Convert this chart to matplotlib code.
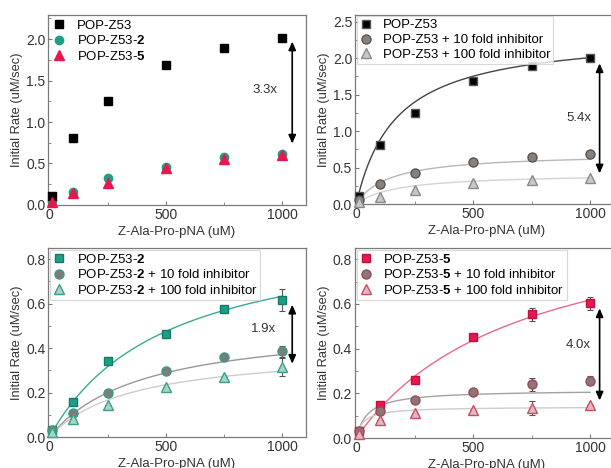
import matplotlib
matplotlib.use("Agg")
import matplotlib.pyplot as plt
from matplotlib.ticker import MultipleLocator
import numpy as np

plt.rcParams["font.family"] = ["Liberation Sans", "DejaVu Sans"]
plt.rcParams["mathtext.fontset"] = "custom"
plt.rcParams["mathtext.bf"] = "Liberation Sans:bold"
plt.rcParams["mathtext.rm"] = "Liberation Sans"

# substrate concentrations (uM)
substrate = [10, 100, 250, 500, 750, 1000]

# panel 1: enzyme variants
z53 = [0.11, 0.81, 1.25, 1.69, 1.89, 2.01]
z53_2 = [0.05, 0.16, 0.33, 0.46, 0.58, 0.61]
z53_5 = [0.04, 0.15, 0.26, 0.45, 0.55, 0.60]

# panel 2: POP-Z53 with inhibitor
z53_10x = [0.06, 0.27, 0.42, 0.57, 0.65, 0.69]
z53_100x = [0.03, 0.10, 0.19, 0.29, 0.33, 0.36]

# panel 3: POP-Z53-2 with inhibitor
z53_2_main = [0.03, 0.16, 0.34, 0.465, 0.575, 0.615]
z53_2_main_err = [0, 0, 0, 0.01, 0, 0.05]
z53_2_10x = [0.03, 0.11, 0.20, 0.295, 0.36, 0.385]
z53_2_10x_err = [0, 0, 0, 0, 0, 0.025]
z53_2_100x = [0.025, 0.08, 0.146, 0.227, 0.27, 0.314]
z53_2_100x_err = [0, 0, 0, 0, 0, 0.04]

# panel 4: POP-Z53-5 with inhibitor
z53_5_main = [0.03, 0.148, 0.258, 0.45, 0.553, 0.602]
z53_5_main_err = [0, 0.01, 0, 0, 0.03, 0.03]
z53_5_10x = [0.03, 0.123, 0.171, 0.205, 0.24, 0.256]
z53_5_10x_err = [0, 0, 0, 0, 0.03, 0.02]
z53_5_100x = [0.02, 0.081, 0.111, 0.127, 0.135, 0.15]
z53_5_100x_err = [0, 0, 0, 0, 0.03, 0]

# Michaelis-Menten fit parameters (Vmax, Km)
fit_p2 = [(2.35, 170), (0.70, 140), (0.42, 170)]
fit_p3 = [(0.95, 500), (0.52, 400), (0.40, 350)]
fit_p4 = [(1.05, 700), (0.215, 50), (0.14, 30)]

fold_labels = ["3.3x", "5.4x", "1.9x", "4.0x"]

TEAL = "#1f9e86"
RED = "#e8174e"
SPINE = "#7a7a7a"
XLABEL = "Z-Ala-Pro-pNA (uM)"
YLABEL = "Initial Rate (uM/sec)"

fig = plt.figure(figsize=(6.11, 4.68), dpi=100)
W = 0.421
ax1 = fig.add_axes([0.079, 0.562, W, 0.406])
ax2 = fig.add_axes([0.581, 0.564, W + 0.01, 0.405])
ax3 = fig.add_axes([0.079, 0.066, W, 0.404])
ax4 = fig.add_axes([0.581, 0.064, W + 0.01, 0.406])


def style_axes(ax, ymax, ystep, xmax=1100):
    ax.set_xlim(-5, xmax)
    ax.set_ylim(0, ymax)
    ax.xaxis.set_major_locator(MultipleLocator(500))
    ax.xaxis.set_minor_locator(MultipleLocator(250))
    ax.yaxis.set_major_locator(MultipleLocator(ystep))
    ax.yaxis.set_minor_locator(MultipleLocator(ystep / 2))
    for s in ax.spines.values():
        s.set_color(SPINE)
        s.set_linewidth(0.9)
    ax.tick_params(which="both", direction="in", color=SPINE, labelsize=10,
                   labelcolor="#333333", pad=2)
    ax.tick_params(which="major", length=3)
    ax.tick_params(which="minor", length=2)
    ax.set_xlabel(XLABEL, fontsize=9.5, color="#333333", labelpad=3)
    ax.set_ylabel(YLABEL, fontsize=9.3, color="#333333", labelpad=2)


def fit_curve(ax, vmax, km, color):
    xs = np.linspace(10, 1000, 200)
    ax.plot(xs, vmax * xs / (km + xs), color=color, lw=1.0, zorder=2)


def arrow(ax, x, y0, y1, tx, ty, text):
    ax.annotate("", xy=(x, y1), xytext=(x, y0),
                arrowprops=dict(arrowstyle="<|-|>,head_length=0.5,head_width=0.22",
                                color="black", lw=1.2, shrinkA=0, shrinkB=0))
    ax.text(tx, ty, text, fontsize=9.5, color="#333333", ha="center", va="center")


def legend(ax, frame):
    leg = ax.legend(loc="upper left", fontsize=9.5, frameon=frame, handlelength=1.0,
                    handletextpad=0.8, borderaxespad=0.15, borderpad=0.2,
                    labelspacing=0.2, fancybox=False, numpoints=1)
    if frame:
        leg.get_frame().set_edgecolor("#d0d0d0")
        leg.get_frame().set_linewidth(0.8)


# panel 1
ax1.plot(substrate, z53, "s", color="black", ms=5.5, label="POP-Z53", clip_on=False, zorder=4)
ax1.plot(substrate, z53_2, "o", color=TEAL, ms=6, label=r"POP-Z53-$\mathbf{2}$", clip_on=False, zorder=3)
ax1.plot(substrate, z53_5, "^", color=RED, ms=6.5, label=r"POP-Z53-$\mathbf{5}$", clip_on=False, zorder=4)
style_axes(ax1, 2.29, 0.5)
legend(ax1, False)
arrow(ax1, 1043, 1.97, 0.74, 925, 1.38, fold_labels[0])

# panel 2
fit_curve(ax2, *fit_p2[0], "#444444")
fit_curve(ax2, *fit_p2[1], "#b8b8b8")
fit_curve(ax2, *fit_p2[2], "#d4d4d4")
ax2.plot(substrate, z53, "s", color="black", mec="#555555", ms=5.5, label="POP-Z53", clip_on=False, zorder=4)
ax2.plot(substrate, z53_10x, "o", color="#8a807a", mec="#555555", ms=6.5,
         label="POP-Z53 + 10 fold inhibitor", clip_on=False, zorder=4)
ax2.plot(substrate, z53_100x, "^", color="#c8c8c8", mec="#8a8a8a", ms=7,
         label="POP-Z53 + 100 fold inhibitor", clip_on=False, zorder=4)
style_axes(ax2, 2.6, 0.5, 1120)
legend(ax2, True)
arrow(ax2, 1040, 1.93, 0.42, 950, 1.18, fold_labels[1])

# panel 3
fit_curve(ax3, *fit_p3[0], "#3aaa92")
fit_curve(ax3, *fit_p3[1], "#a09494")
fit_curve(ax3, *fit_p3[2], "#cdcdcd")
for vals, err in [(z53_2_main, z53_2_main_err), (z53_2_10x, z53_2_10x_err), (z53_2_100x, z53_2_100x_err)]:
    ax3.errorbar(substrate, vals, yerr=err, fmt="none", ecolor="#555555", elinewidth=0.8,
                 capsize=2, capthick=0.8, zorder=3)
ax3.plot(substrate, z53_2_main, "s", color=TEAL, mec="#147a66", ms=5.5,
         label=r"POP-Z53-$\mathbf{2}$", clip_on=False, zorder=4)
ax3.plot(substrate, z53_2_10x, "o", color="#7c7c7c", mec="#3a9a86", ms=6.5,
         label=r"POP-Z53-$\mathbf{2}$ + 10 fold inhibitor", clip_on=False, zorder=4)
ax3.plot(substrate, z53_2_100x, "^", color="#a9d2c8", mec="#3aa08a", ms=7,
         label=r"POP-Z53-$\mathbf{2}$ + 100 fold inhibitor", clip_on=False, zorder=4)
style_axes(ax3, 0.85, 0.2)
legend(ax3, True)
arrow(ax3, 1043, 0.595, 0.33, 920, 0.486, fold_labels[2])

# panel 4
fit_curve(ax4, *fit_p4[0], "#ec6a88")
fit_curve(ax4, *fit_p4[1], "#a8a0a0")
fit_curve(ax4, *fit_p4[2], "#cdcdcd")
for vals, err in [(z53_5_main, z53_5_main_err), (z53_5_10x, z53_5_10x_err), (z53_5_100x, z53_5_100x_err)]:
    ax4.errorbar(substrate, vals, yerr=err, fmt="none", ecolor="#555555", elinewidth=0.8,
                 capsize=2, capthick=0.8, zorder=3)
ax4.plot(substrate, z53_5_main, "s", color=RED, mec="#c01040", ms=5.5,
         label=r"POP-Z53-$\mathbf{5}$", clip_on=False, zorder=4)
ax4.plot(substrate, z53_5_10x, "o", color="#8c7676", mec="#9a4a5a", ms=6.5,
         label=r"POP-Z53-$\mathbf{5}$ + 10 fold inhibitor", clip_on=False, zorder=4)
ax4.plot(substrate, z53_5_100x, "^", color="#d9bcc0", mec="#d04a68", ms=7,
         label=r"POP-Z53-$\mathbf{5}$ + 100 fold inhibitor", clip_on=False, zorder=4)
style_axes(ax4, 0.85, 0.2, 1120)
legend(ax4, True)
arrow(ax4, 1040, 0.58, 0.168, 950, 0.415, fold_labels[3])

fig.savefig("out.png", dpi=100)
